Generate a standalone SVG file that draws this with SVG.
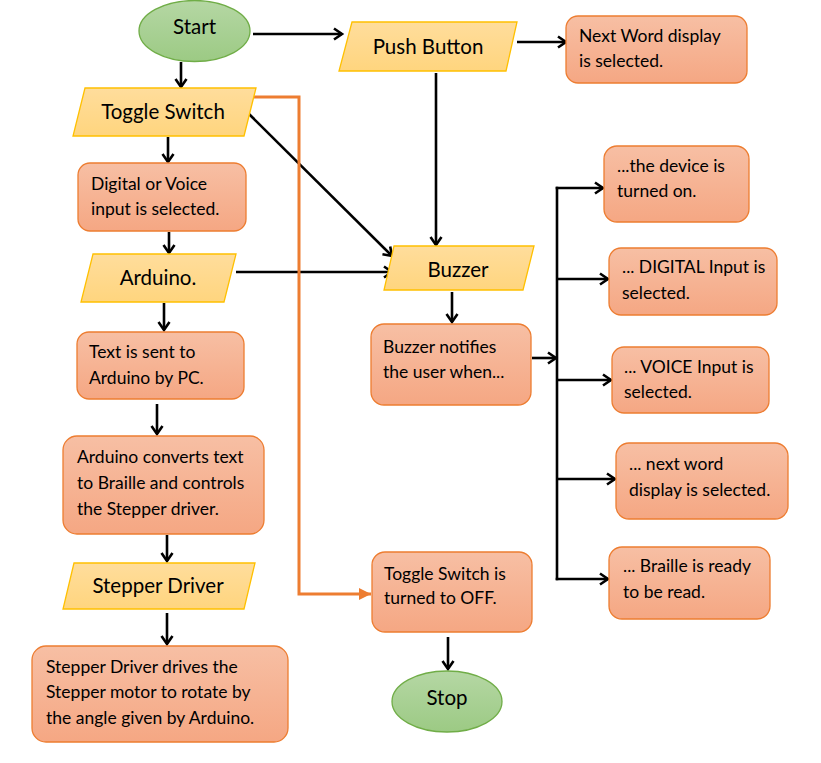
<svg xmlns="http://www.w3.org/2000/svg" width="821" height="763" viewBox="0 0 821 763">
<defs>
<linearGradient id="gBox" x1="0" y1="0" x2="0" y2="1"><stop offset="0" stop-color="#F7BFA4"/><stop offset="1" stop-color="#F5A783"/></linearGradient>
<linearGradient id="gPar" x1="0" y1="0" x2="0" y2="1"><stop offset="0" stop-color="#FFDD9C"/><stop offset="1" stop-color="#FFD57E"/></linearGradient>
<linearGradient id="gEll" x1="0" y1="0" x2="0" y2="1"><stop offset="0" stop-color="#B5D7A4"/><stop offset="1" stop-color="#9CCA84"/></linearGradient>
<marker id="arr" markerUnits="userSpaceOnUse" markerWidth="14" markerHeight="14" refX="10" refY="7" orient="auto"><path d="M2,1.5 L10,7 L2,12.5" fill="none" stroke="#000" stroke-width="2.6"/></marker>
<marker id="arrO" markerUnits="userSpaceOnUse" markerWidth="14" markerHeight="14" refX="12" refY="6" orient="auto"><path d="M0,0 L12,6 L0,12 Z" fill="#ED7D31"/></marker>
</defs>
<style>
.box{fill:url(#gBox);stroke:#ED7D31;stroke-width:1.3}
.par{fill:url(#gPar);stroke:#FFC000;stroke-width:1.3}
.ell{fill:url(#gEll);stroke:#70AD47;stroke-width:1.3}
text{font-family:Lato,"Liberation Sans",sans-serif;fill:#000}
.t{font-size:17.5px}
.h{font-size:20.5px;text-anchor:middle}
.c{fill:none;stroke:#000;stroke-width:2.6;marker-end:url(#arr)}
.o{fill:none;stroke:#ED7D31;stroke-width:3;marker-end:url(#arrO)}
</style>
<g id="connectors">
<path class="c" d="M181,62 L181,87"/>
<path class="c" d="M253,34 L342,34"/>
<path class="c" d="M517,42 L566,42"/>
<path class="c" d="M436,73 L436,245"/>
<path class="c" d="M249,114 L392,256"/>
<path class="c" d="M168,137 L168,162"/>
<path class="c" d="M169,232 L169,253"/>
<path class="c" d="M236,272 L392,272"/>
<path class="c" d="M164,303 L164,330"/>
<path class="c" d="M157,404 L157,434"/>
<path class="c" d="M167,535 L167,561"/>
<path class="c" d="M167,613 L167,644"/>
<path class="c" d="M452,292 L452,322"/>
<path class="c" d="M532,358 L556,358"/>
<path d="M557,186.7 L557,580.3" fill="none" stroke="#000" stroke-width="2.6"/>
<path class="c" d="M555.7,188 L603,188"/>
<path class="c" d="M557,279 L608,279"/>
<path class="c" d="M557,380 L611,380"/>
<path class="c" d="M557,479 L615,479"/>
<path class="c" d="M555.7,579 L608,579"/>
<path class="c" d="M448,637 L448,669"/>
<path class="o" d="M253,97 L299,97 L299,594 L371,594"/>
</g>
<g id="start"><ellipse class="ell" cx="194.5" cy="31" rx="55.5" ry="30.5"/><text class="h" x="194.5" y="34">Start</text></g>
<g id="push-button"><polygon class="par" points="352,22 517,22 506,71 339,71"/><text class="h" x="428" y="54">Push Button</text></g>
<g id="next-word"><rect class="box" x="566" y="16" width="181" height="67" rx="12"/><text class="t" x="579" y="42">Next Word display</text><text class="t" x="579" y="67">is selected.</text></g>
<g id="toggle-switch"><polygon class="par" points="85,88 256,88 244,136 73,136"/><text class="h" x="163" y="119">Toggle Switch</text></g>
<g id="digital-voice"><rect class="box" x="78" y="163" width="168" height="68" rx="12"/><text class="t" x="91" y="190">Digital or Voice</text><text class="t" x="91" y="215">input is selected.</text></g>
<g id="arduino"><polygon class="par" points="93,254 236,254 224,302 81,302"/><text class="h" x="158" y="285">Arduino.</text></g>
<g id="text-sent"><rect class="box" x="77" y="332" width="167" height="67" rx="12"/><text class="t" x="89" y="358">Text is sent to</text><text class="t" x="89" y="384">Arduino by PC.</text></g>
<g id="arduino-converts"><rect class="box" x="63" y="436" width="201" height="98" rx="14"/><text class="t" x="77" y="463">Arduino converts text</text><text class="t" x="77" y="489">to Braille and controls</text><text class="t" x="77" y="515">the Stepper driver.</text></g>
<g id="stepper-driver"><polygon class="par" points="74,563 255,563 244,609 63,609"/><text class="h" x="158" y="593">Stepper Driver</text></g>
<g id="stepper-drives"><rect class="box" x="32" y="646" width="256" height="96" rx="14"/><text class="t" x="46" y="673">Stepper Driver drives the</text><text class="t" x="46" y="698">Stepper motor to rotate by</text><text class="t" x="46" y="724">the angle given by Arduino.</text></g>
<g id="buzzer"><polygon class="par" points="394,246 534,246 523,290 384,290"/><text class="h" x="458" y="277">Buzzer</text></g>
<g id="buzzer-notifies"><rect class="box" x="371" y="324" width="160" height="81" rx="13"/><text class="t" x="383" y="353">Buzzer notifies</text><text class="t" x="383" y="378">the user when...</text></g>
<g id="device-on"><rect class="box" x="604" y="146" width="145" height="76" rx="13"/><text class="t" x="617" y="172">...the device is</text><text class="t" x="617" y="197">turned on.</text></g>
<g id="digital-input"><rect class="box" x="609" y="248" width="168" height="67" rx="12"/><text class="t" x="622" y="273">... DIGITAL Input is</text><text class="t" x="622" y="299">selected.</text></g>
<g id="voice-input"><rect class="box" x="612" y="347" width="157" height="66" rx="12"/><text class="t" x="624" y="373">... VOICE Input is</text><text class="t" x="624" y="398">selected.</text></g>
<g id="next-word-display"><rect class="box" x="616" y="443" width="172" height="76" rx="13"/><text class="t" x="629" y="470">... next word</text><text class="t" x="629" y="496">display is selected.</text></g>
<g id="braille-ready"><rect class="box" x="609" y="547" width="161" height="72" rx="13"/><text class="t" x="623" y="572">... Braille is ready</text><text class="t" x="623" y="598">to be read.</text></g>
<g id="toggle-off"><rect class="box" x="372" y="552" width="160" height="80" rx="13"/><text class="t" x="384" y="580">Toggle Switch is</text><text class="t" x="384" y="604">turned to OFF.</text></g>
<g id="stop"><ellipse class="ell" cx="447" cy="701.5" rx="55" ry="30.5"/><text class="h" x="447" y="705">Stop</text></g>
</svg>
